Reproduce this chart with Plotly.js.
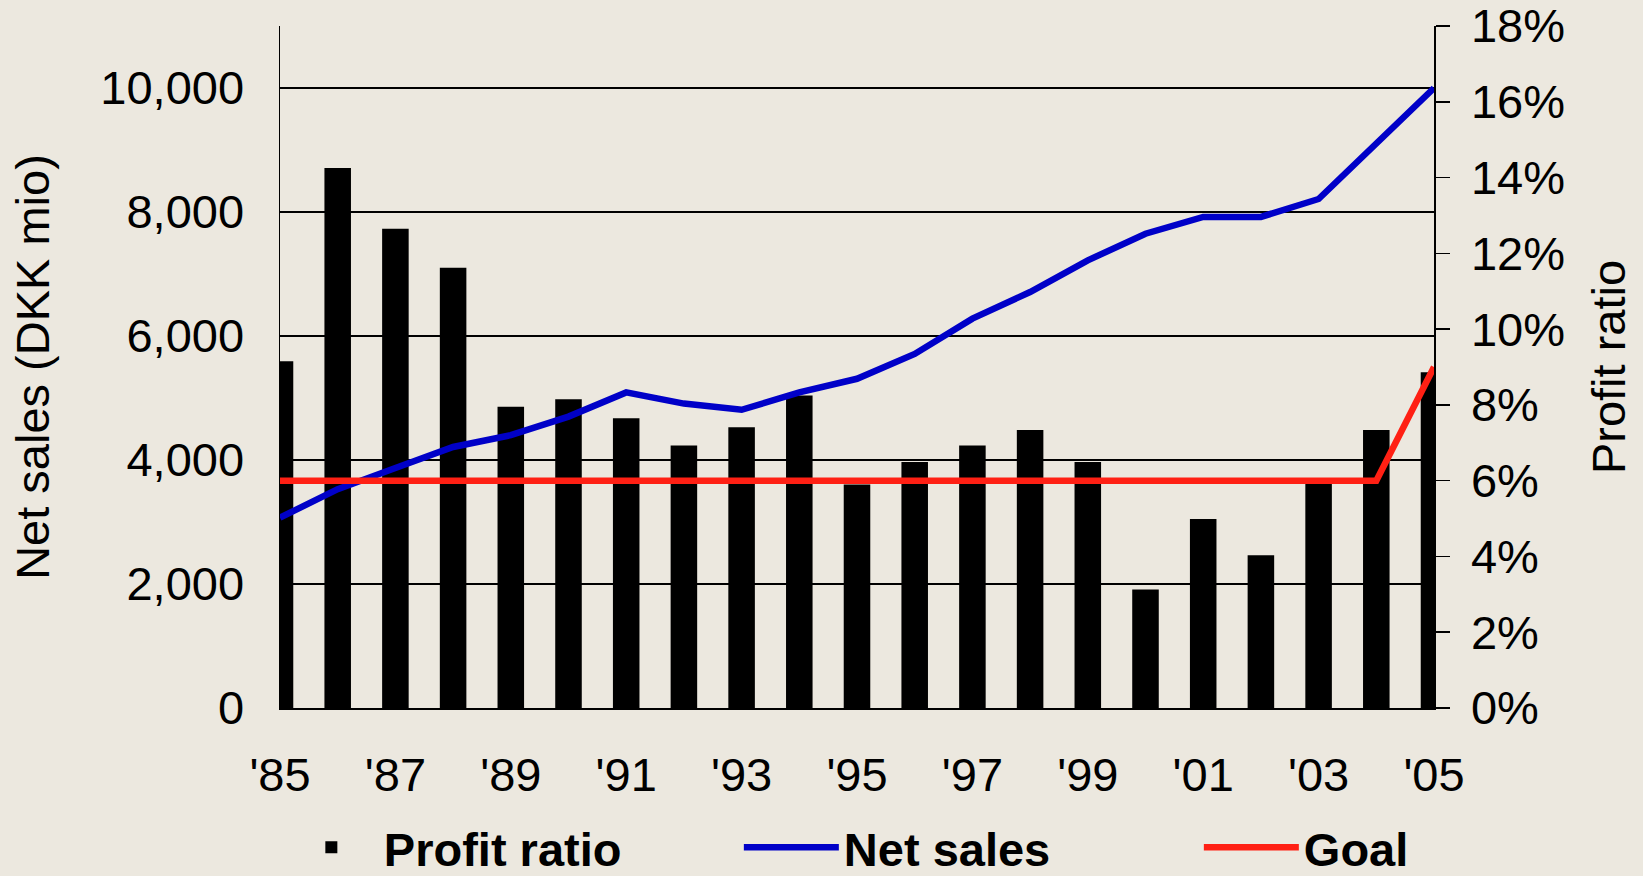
<!DOCTYPE html>
<html>
<head>
<meta charset="utf-8">
<script src="https://cdn.plot.ly/plotly-3.0.1.min.js"></script>
<style>
  html, body { margin: 0; padding: 0; background: #ECE8DF; }
  #chart { width: 1643px; height: 876px; }
</style>
</head>
<body>
<div id="chart"></div>
<script>
// ---- data ----
const years = [1985, 1986, 1987, 1988, 1989, 1990, 1991, 1992, 1993, 1994, 1995,
               1996, 1997, 1998, 1999, 2000, 2001, 2002, 2003, 2004, 2005];
const profitRatio = [9.15, 14.25, 12.65, 11.62, 7.95, 8.15, 7.65, 6.93, 7.41, 8.25, 5.9,
                     6.49, 6.93, 7.34, 6.49, 3.13, 4.99, 4.03, 6.0, 7.34, 8.86];
const netSales = [3070, 3530, 3870, 4210, 4400, 4700, 5090, 4910, 4810, 5090, 5310,
                  5710, 6280, 6710, 7220, 7650, 7920, 7920, 8210, 9100, 10000];
const goal = [6, 6, 6, 6, 6, 6, 6, 6, 6, 6, 6,
              6, 6, 6, 6, 6, 6, 6, 6, 6, 9];
const tickYears = [1985, 1987, 1989, 1991, 1993, 1995, 1997, 1999, 2001, 2003, 2005];
const tickLabels = ["'85", "'87", "'89", "'91", "'93", "'95", "'97", "'99", "'01", "'03", "'05"];

const FONT = 'Liberation Sans, Arial, sans-serif';
const FS = 47;

const traces = [
  {
    type: 'bar', name: 'Profit ratio', x: years, y: profitRatio,
    yaxis: 'y', width: 0.46,
    marker: { color: '#000000', line: { width: 0 } }
  },
  {
    type: 'scatter', mode: 'lines', name: 'Net sales', x: years, y: netSales,
    yaxis: 'y2', line: { color: '#0000C8', width: 6.5 }
  },
  {
    type: 'scatter', mode: 'lines', name: 'Goal', x: years, y: goal,
    yaxis: 'y3', line: { color: '#FF2014', width: 6.5 }
  }
];

const layout = {
  width: 1643, height: 876,
  paper_bgcolor: '#ECE8DF',
  plot_bgcolor: 'rgba(0,0,0,0)',
  margin: { l: 280, r: 209, t: 26, b: 168, autoexpand: false },
  font: { family: FONT, size: FS, color: '#000000' },
  showlegend: true,
  xaxis: {
    range: [1985, 2005], tickvals: tickYears, ticktext: tickLabels,
    ticks: '', showgrid: false, zeroline: false,
    showline: true, linecolor: '#000000', linewidth: 1.5,
    tickfont: { family: FONT, size: FS, color: '#000000' },
    ticklabelstandoff: 25, fixedrange: true
  },
  yaxis: {
    side: 'right', range: [0, 18], dtick: 2, ticksuffix: '%',
    ticks: 'outside', ticklen: 14, tickwidth: 1.5, tickcolor: '#000000',
    showline: true, linecolor: '#000000', linewidth: 1.5,
    showgrid: false, zeroline: false,
    tickfont: { family: FONT, size: FS, color: '#000000' },
    ticklabelstandoff: 12, ticklabeloverflow: 'allow',
    automargin: true,
    title: { text: 'Profit ratio', standoff: 28, font: { family: FONT, size: FS, color: '#000000' } },
    fixedrange: true
  },
  yaxis2: {
    overlaying: 'y', side: 'left', anchor: 'x',
    range: [0, 11000], dtick: 2000, tickformat: ',d',
    ticks: '', showline: true, linecolor: '#000000', linewidth: 1.5,
    showgrid: true, gridcolor: '#000000', gridwidth: 1.4, zeroline: false,
    tickfont: { family: FONT, size: FS, color: '#000000' },
    ticklabelstandoff: 25, ticklabeloverflow: 'allow',
    automargin: true,
    title: { text: 'Net sales (DKK mio)', standoff: 36, font: { family: FONT, size: FS, color: '#000000' } },
    fixedrange: true
  },
  yaxis3: {
    overlaying: 'y', anchor: 'x', matches: 'y', range: [0, 18], visible: false, fixedrange: true
  },
  legend: {
    orientation: 'h', x: -0.001, xanchor: 'left', y: -0.205, yanchor: 'middle',
    bgcolor: 'rgba(0,0,0,0)', traceorder: 'normal',
    itemwidth: 95,
    entrywidth: 350, entrywidthmode: 'pixels',
    font: { family: FONT, size: 47, color: '#000000', weight: 'bold' }
  }
};

Plotly.newPlot('chart', traces, layout, { displayModeBar: false, staticPlot: true });
</script>
</body>
</html>
